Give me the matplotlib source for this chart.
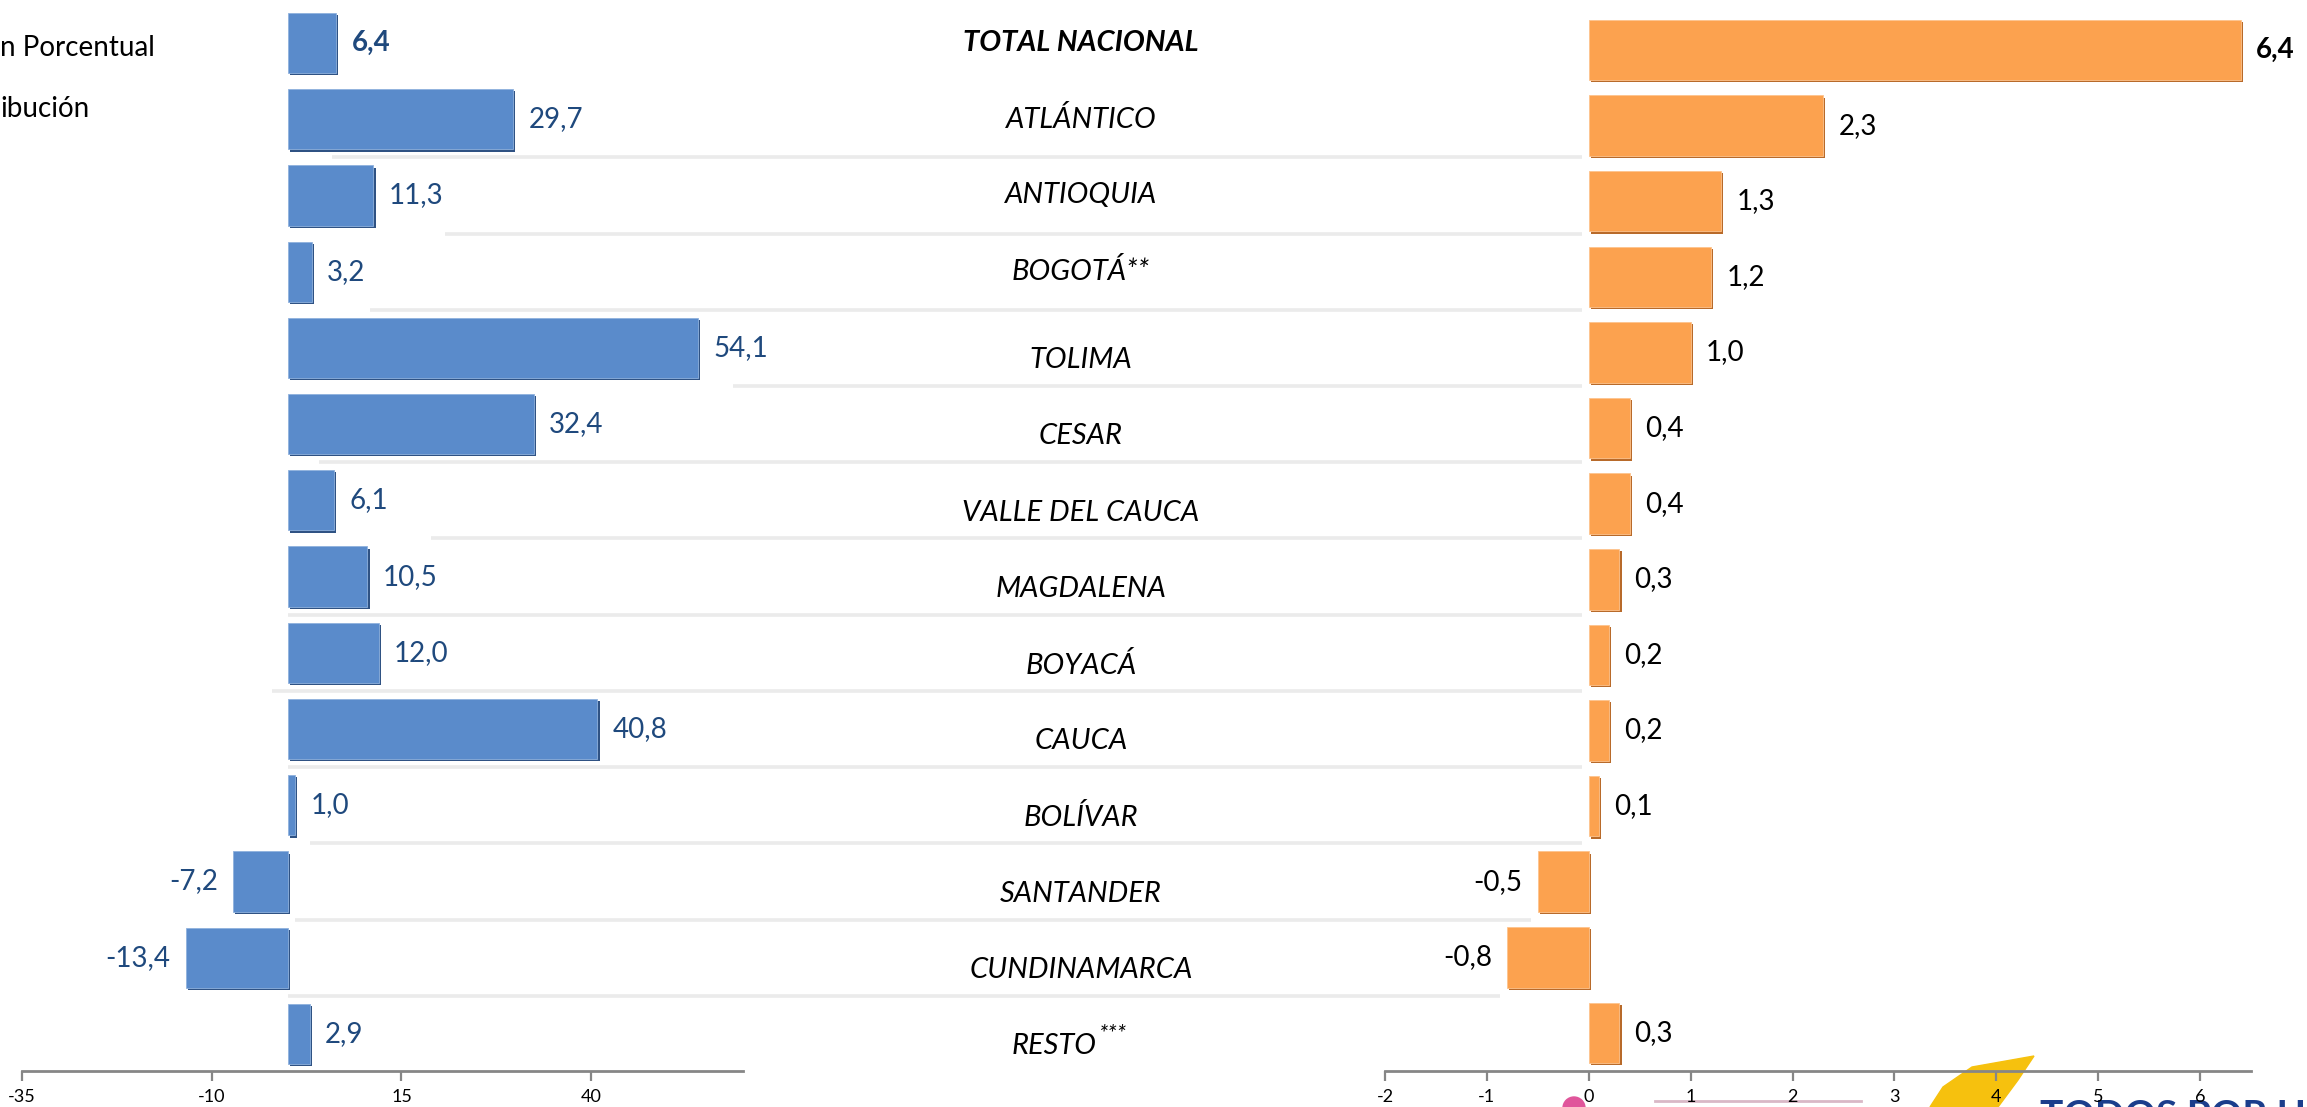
import matplotlib.pyplot as plt
import matplotlib.patheffects as pe
from matplotlib.patches import Polygon, Circle

plt.rcParams['font.family'] = ['Lato', 'DejaVu Sans']
plt.rcParams['axes.unicode_minus'] = False

# ==================== datos ====================
departamentos = ['TOTAL NACIONAL', 'ATLÁNTICO', 'ANTIOQUIA', 'BOGOTÁ**', 'TOLIMA', 'CESAR',
                 'VALLE DEL CAUCA', 'MAGDALENA', 'BOYACÁ', 'CAUCA', 'BOLÍVAR', 'SANTANDER',
                 'CUNDINAMARCA', 'RESTO']
variacion = [6.4, 29.7, 11.3, 3.2, 54.1, 32.4, 6.1, 10.5, 12.0, 40.8, 1.0, -7.2, -13.4, 2.9]
contribucion = [6.4, 2.3, 1.3, 1.2, 1.0, 0.4, 0.4, 0.3, 0.2, 0.2, 0.1, -0.5, -0.8, 0.3]

ticks_var = [-35, -10, 15, 40]
ticks_con = [-2, -1, 0, 1, 2, 3, 4, 5, 6]

# inicio (en unidades del eje izquierdo) de las lineas grises entre filas
sep_inicio = [None, 5.9, 20.8, 10.8, 58.7, 4.1, 18.9, 0, -2, 0, 3, 1, 0, None]

AZUL = '#5A8BCB'
AZUL_OSC = '#2F5283'
NARANJA = '#FCA24F'
NARANJA_OSC = '#B86A2A'
TXT_AZUL = '#1F497D'
GRIS = '#868686'

W, H = 2307, 1107
fig = plt.figure(figsize=(W / 100, H / 100), dpi=100)

ax_bg = fig.add_axes([0, 0, 1, 1], zorder=-1)
ax_bg.set_xlim(0, W)
ax_bg.set_ylim(H, 0)
ax_bg.axis('off')

ax_l = fig.add_axes([22 / W, 1 - 1071 / H, (743 - 22) / W, 1071 / H])
ax_r = fig.add_axes([1385 / W, 1 - 1071 / H, 866 / W, 1071 / H])
ax_l.set_xlim(-35, 60)
ax_r.set_xlim(-2, 6.5)
ax_l.set_ylim(13.486, -0.564)
ax_r.set_ylim(13.503, -0.661)
for ax in (ax_l, ax_r):
    ax.patch.set_alpha(0)
    for s in ('top', 'left', 'right'):
        ax.spines[s].set_visible(False)
    ax.spines['bottom'].set_color(GRIS)
    ax.spines['bottom'].set_linewidth(2)
    ax.set_yticks([])
    ax.tick_params(axis='x', length=7, width=1.6, color=GRIS, labelsize=13, pad=6)

ax_l.set_xticks(ticks_var)
ax_l.set_xticklabels([str(t) for t in ticks_var])
ax_r.set_xticks(ticks_con)
ax_r.set_xticklabels([str(t) for t in ticks_con])

y = list(range(len(departamentos)))

sombra_az = [pe.SimplePatchShadow(offset=(1.6, -1.6), shadow_rgbFace=AZUL_OSC, alpha=1), pe.Normal()]
sombra_na = [pe.SimplePatchShadow(offset=(1.6, -1.6), shadow_rgbFace=NARANJA_OSC, alpha=1), pe.Normal()]

bars_l = ax_l.barh(y, variacion, height=0.79, color=AZUL, edgecolor='#8FB1DD', linewidth=0.6, zorder=3)
bars_r = ax_r.barh(y, contribucion, height=0.8, color=NARANJA, edgecolor='#FDC48E', linewidth=0.6, zorder=3)
for b in bars_l:
    b.set_path_effects(sombra_az)
for b in bars_r:
    b.set_path_effects(sombra_na)


def fmt(v):
    return f'{v:.1f}'.replace('.', ',')


for i, v in enumerate(variacion):
    ax_l.annotate(fmt(v), xy=(v, i), xytext=(11 if v >= 0 else -11, 0), textcoords='offset points',
                  ha='left' if v >= 0 else 'right', va='center', fontsize=20, color=TXT_AZUL,
                  fontweight='bold' if i == 0 else 'normal', annotation_clip=False)
for i, v in enumerate(contribucion):
    ax_r.annotate(fmt(v), xy=(v, i), xytext=(11 if v >= 0 else -11, 0), textcoords='offset points',
                  ha='left' if v >= 0 else 'right', va='center', fontsize=20, color='black',
                  fontweight='bold' if i == 0 else 'normal', annotation_clip=False)

# lineas separadoras
for i, x0 in enumerate(sep_inicio):
    if x0 is None:
        continue
    fin_r = min(0, contribucion[i]) - 0.07
    xd = ax_r.transData.transform((fin_r, 0))[0]
    x1 = ax_l.transData.inverted().transform((xd, 0))[0]
    ax_l.plot([x0, x1], [i + 0.5, i + 0.5], color='#EBEBEB', lw=2.6, zorder=1,
              clip_on=False, solid_capstyle='butt')

# nombres de departamentos
xc = 1081 / W
for i, nombre in enumerate(departamentos):
    dy = 0.16 if i >= 4 else 0.0
    yy = ax_l.transData.transform((0, i + dy))[1]
    yf = fig.transFigure.inverted().transform((0, yy))[1]
    if nombre == 'RESTO':
        fig.text(1097 / W, yf, 'RESTO', ha='right', va='center', fontsize=21, style='italic')
        fig.text(1098 / W, yf + 0.011, '***', ha='left', va='center', fontsize=17, style='italic')
    else:
        fig.text(xc, yf, nombre, ha='center', va='center', fontsize=21, style='italic',
                 fontweight='bold' if i == 0 else 'normal')

# leyenda recortada
fig.text(0, 1 - 48 / H, 'n Porcentual', ha='left', va='center', fontsize=20)
fig.text(0, 1 - 109 / H, 'ibución', ha='left', va='center', fontsize=20)

# logo recortado abajo a la derecha
ax_bg.add_patch(Polygon([(2034, 1056), (2018, 1080), (1998, 1107), (1930, 1107),
                         (1943, 1087), (1972, 1067)], closed=True, color='#F6C10E', zorder=1))
ax_bg.add_patch(Circle((1574, 1108), 11, color='#E0559B', zorder=1))
ax_bg.plot([1655, 1861], [1101, 1101], color='#D9B8C6', lw=2, zorder=1)
ax_bg.text(2040, 1099, 'TODOS POR UN', ha='left', va='top', fontsize=28, fontweight='bold',
           color='#1B3E8C', zorder=1)

fig.savefig('out.png', dpi=100)
